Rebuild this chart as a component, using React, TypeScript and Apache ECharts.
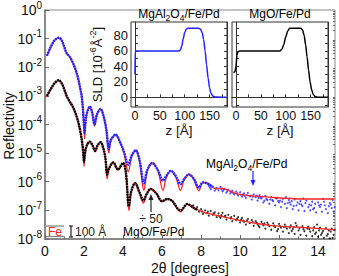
import { useEffect, useRef } from "react";
import * as echarts from "echarts";

const FONT = '"Liberation Sans", Arial, Helvetica, sans-serif';
const BLUE = "#2222ff";
const RED = "#ff2020";
const DARK = "#111111";
const GREY = "#555555";

// Reflectivity vs 2theta (degrees)
const blueFit: number[][] = [
  [0.1, 2.5e-2], [0.3, 5.2e-2], [0.5, 8.9e-2], [0.7, 1.07e-1], [0.85, 8.9e-2], [1.0, 4.8e-2],
  [1.12, 3.0e-2], [1.25, 2.4e-2], [1.4, 1.6e-2], [1.55, 8.9e-3], [1.7, 4.0e-3], [1.8, 1.9e-3],
  [1.88, 1.0e-3], [1.95, 3.2e-4], [2.0, 7.9e-5], [2.03, 3.2e-5], [2.07, 1.0e-4], [2.15, 2.5e-4],
  [2.3, 4.2e-4], [2.42, 2.5e-4], [2.54, 8.9e-5], [2.66, 2.2e-4], [2.85, 3.5e-4], [3.0, 2.0e-4],
  [3.15, 6.3e-5], [3.27, 1.0e-5], [3.38, 2.8e-5], [3.62, 4.4e-5], [3.85, 2.4e-5], [4.05, 1.0e-5],
  [4.27, 2.2e-6], [4.45, 7.9e-6], [4.65, 1.26e-5], [4.85, 5.0e-6], [5.07, 5.0e-7], [5.25, 2.5e-6],
  [5.5, 4.5e-6], [5.78, 2.5e-6], [6.05, 5.0e-7], [6.22, 1.4e-6], [6.45, 2.4e-6], [6.7, 1.5e-6],
  [6.95, 5.0e-7], [7.12, 1.1e-6], [7.37, 1.8e-6], [7.62, 1.26e-6], [7.89, 4.8e-7], [8.1, 9.5e-7],
  [8.35, 8.9e-7], [8.8, 5.6e-7], [9.0, 6.0e-7], [9.9, 3.7e-7], [11.5, 2.9e-7], [13.3, 2.5e-7],
  [14.85, 2.5e-7],
];

const blueData: number[][] = [
  [0.1, 2.5e-2], [0.3, 5.2e-2], [0.5, 8.9e-2], [0.7, 1.07e-1], [0.85, 8.9e-2], [1.0, 4.8e-2],
  [1.12, 3.0e-2], [1.25, 2.4e-2], [1.4, 1.6e-2], [1.55, 8.9e-3], [1.7, 4.0e-3], [1.8, 1.9e-3],
  [1.88, 1.0e-3], [1.95, 3.2e-4], [2.0, 8.9e-5], [2.03, 5.0e-5], [2.07, 1.1e-4], [2.15, 2.5e-4],
  [2.3, 4.2e-4], [2.42, 2.6e-4], [2.54, 1.0e-4], [2.66, 2.2e-4], [2.85, 3.5e-4], [3.0, 2.0e-4],
  [3.15, 6.3e-5], [3.27, 1.4e-5], [3.38, 2.9e-5], [3.62, 4.4e-5], [3.85, 2.4e-5], [4.05, 1.1e-5],
  [4.27, 4.0e-6], [4.45, 8.3e-6], [4.65, 1.26e-5], [4.85, 5.6e-6], [5.07, 8.9e-7], [5.25, 2.6e-6],
  [5.5, 4.5e-6], [5.78, 2.6e-6], [6.05, 1.1e-6], [6.22, 1.6e-6], [6.45, 2.4e-6], [6.7, 1.6e-6],
  [6.95, 8.3e-7], [7.12, 1.2e-6], [7.37, 1.8e-6], [7.62, 1.3e-6], [7.89, 6.3e-7], [8.1, 9.5e-7],
  [8.35, 8.5e-7], [8.6, 6.5e-7],
];

const blueScatter: number[][] = [
  [8.4, 7.2e-7], [8.5, 5.5e-7], [8.6, 6.8e-7], [8.7, 4.9e-7], [8.8, 6.1e-7], [8.9, 5.0e-7],
  [9.0, 6.6e-7], [9.05, 5.4e-7], [9.1, 4.6e-7], [9.2, 5.6e-7], [9.3, 4.2e-7], [9.4, 5.2e-7],
  [9.5, 3.9e-7], [9.55, 4.4e-7], [9.6, 4.8e-7], [9.7, 3.6e-7], [9.8, 4.5e-7], [9.9, 3.3e-7],
  [10.0, 4.3e-7], [10.05, 3.5e-7], [10.1, 3.0e-7], [10.2, 3.9e-7], [10.3, 2.7e-7], [10.4, 4.1e-7],
  [10.5, 3.1e-7], [10.55, 3.3e-7], [10.6, 2.4e-7], [10.7, 3.6e-7], [10.8, 2.9e-7], [10.85, 3.3e-7],
  [10.9, 2.2e-7], [11.0, 3.4e-7], [11.05, 2.8e-7], [11.1, 2.6e-7], [11.2, 1.9e-7], [11.3, 3.2e-7],
  [11.4, 2.3e-7], [11.5, 1.7e-7], [11.55, 2.4e-7], [11.6, 2.9e-7], [11.7, 2.1e-7], [11.8, 1.5e-7],
  [11.85, 2.6e-7], [11.9, 2.7e-7], [12.0, 1.9e-7], [12.05, 2.2e-7], [12.1, 1.3e-7], [12.2, 2.5e-7],
  [12.3, 1.7e-7], [12.35, 2.9e-7], [12.4, 1.2e-7], [12.5, 2.3e-7], [12.55, 1.9e-7], [12.6, 1.6e-7],
  [12.7, 1.1e-7], [12.8, 2.4e-7], [12.9, 1.5e-7], [13.0, 1.0e-7], [13.05, 1.7e-7], [13.1, 2.1e-7],
  [13.2, 1.4e-7], [13.25, 2.6e-7], [13.3, 9.5e-8], [13.4, 2.2e-7], [13.5, 1.3e-7], [13.55, 1.6e-7],
  [13.6, 1.0e-7], [13.7, 2.0e-7], [13.8, 1.2e-7], [13.9, 8.5e-8], [14.0, 1.9e-7], [14.05, 1.5e-7],
  [14.1, 1.3e-7], [14.2, 9.0e-8], [14.25, 2.5e-7], [14.3, 2.0e-7], [14.4, 1.1e-7], [14.5, 8.0e-8],
  [14.55, 1.4e-7], [14.6, 1.8e-7], [14.7, 1.2e-7], [14.75, 2.3e-7], [14.8, 9.0e-8],
  [8.45, 6.2e-7], [8.75, 5.7e-7], [9.15, 5.1e-7], [9.35, 4.7e-7], [9.65, 4.1e-7], [9.85, 3.9e-7],
  [10.15, 3.6e-7], [10.35, 3.4e-7], [10.65, 3.0e-7], [10.95, 2.7e-7], [11.15, 3.0e-7], [11.35, 2.5e-7],
  [11.65, 2.3e-7], [11.95, 2.1e-7], [12.15, 2.0e-7], [12.45, 1.8e-7], [12.65, 2.1e-7], [12.95, 1.9e-7],
  [13.15, 1.6e-7], [13.35, 1.8e-7], [13.65, 1.5e-7], [13.85, 1.7e-7], [14.15, 1.6e-7], [14.35, 1.5e-7],
  [14.65, 1.6e-7], [14.85, 1.3e-7], [12.75, 1.4e-7], [13.75, 1.1e-7], [11.25, 2.2e-7], [10.25, 3.2e-7],
];

const blackFit: number[][] = [
  [0.0, 9.3e-4], [0.1, 1.0e-3], [0.28, 1.66e-3], [0.5, 2.8e-3], [0.7, 3.5e-3], [0.85, 2.8e-3],
  [1.0, 1.6e-3], [1.12, 9.5e-4], [1.25, 6.6e-4], [1.4, 4.5e-4], [1.5, 3.2e-4], [1.65, 1.66e-4],
  [1.8, 6.3e-5], [1.9, 2.5e-5], [1.96, 1.0e-5], [2.0, 3.5e-6], [2.05, 1.0e-5], [2.15, 1.9e-5],
  [2.29, 2.5e-5], [2.43, 1.9e-5], [2.57, 1.1e-5], [2.7, 1.9e-5], [2.85, 2.4e-5], [3.0, 1.4e-5],
  [3.1, 6.3e-6], [3.19, 1.26e-6], [3.28, 2.8e-6], [3.5, 4.7e-6], [3.74, 2.6e-6], [4.0, 4.5e-6],
  [4.15, 2.0e-6], [4.3, 1.0e-7], [4.42, 4.5e-7], [4.62, 8.9e-7], [4.85, 4.0e-7], [5.05, 1.8e-7],
  [5.2, 3.5e-7], [5.42, 5.6e-7], [5.7, 4.0e-7], [6.0, 2.0e-7], [6.27, 2.5e-7], [6.5, 2.2e-7],
  [6.95, 8.9e-8], [7.3, 1.66e-7], [7.6, 1.26e-7], [8.1, 8.7e-8], [9.0, 6.3e-8], [9.9, 4.6e-8],
  [11.5, 3.0e-8], [13.3, 2.5e-8], [14.85, 2.1e-8],
];

const blackData: number[][] = [
  [0.1, 1.0e-3], [0.28, 1.66e-3], [0.5, 2.8e-3], [0.7, 3.5e-3], [0.85, 2.8e-3],
  [1.0, 1.6e-3], [1.12, 9.5e-4], [1.25, 6.6e-4], [1.4, 4.5e-4], [1.5, 3.2e-4], [1.65, 1.66e-4],
  [1.8, 6.3e-5], [1.9, 2.5e-5], [1.96, 1.1e-5], [2.0, 5.0e-6], [2.05, 1.0e-5], [2.15, 1.9e-5],
  [2.29, 2.5e-5], [2.43, 1.9e-5], [2.57, 1.2e-5], [2.7, 1.9e-5], [2.85, 2.4e-5], [3.0, 1.4e-5],
  [3.1, 6.3e-6], [3.19, 1.8e-6], [3.28, 2.9e-6], [3.5, 4.7e-6], [3.74, 2.7e-6], [4.0, 4.5e-6],
  [4.15, 2.0e-6], [4.3, 1.4e-7], [4.42, 4.5e-7], [4.62, 8.9e-7], [4.85, 4.2e-7], [5.05, 2.2e-7],
  [5.2, 3.6e-7], [5.42, 5.6e-7], [5.7, 4.0e-7], [6.0, 2.1e-7], [6.27, 2.5e-7], [6.5, 2.2e-7],
  [6.95, 1.0e-7], [7.3, 1.66e-7], [7.6, 1.26e-7], [7.8, 1.05e-7],
];

const blackScatter: number[][] = [
  [7.6, 1.5e-7], [7.7, 1.1e-7], [7.8, 1.3e-7], [7.9, 9.0e-8], [8.0, 1.1e-7], [8.1, 7.5e-8],
  [8.2, 1.0e-7], [8.3, 8.0e-8], [8.4, 6.5e-8], [8.5, 9.5e-8], [8.6, 7.0e-8], [8.7, 8.5e-8],
  [8.8, 5.8e-8], [8.9, 7.8e-8], [9.0, 5.5e-8], [9.05, 6.8e-8], [9.1, 8.2e-8], [9.2, 6.0e-8],
  [9.3, 4.8e-8], [9.4, 7.0e-8], [9.5, 5.2e-8], [9.6, 4.2e-8], [9.7, 6.4e-8], [9.8, 4.6e-8],
  [9.9, 5.8e-8], [10.0, 3.8e-8], [10.1, 5.5e-8], [10.15, 4.4e-8], [10.2, 4.0e-8], [10.3, 3.2e-8],
  [10.4, 5.0e-8], [10.5, 3.6e-8], [10.6, 4.6e-8], [10.7, 2.9e-8], [10.8, 4.2e-8], [10.9, 3.3e-8],
  [10.95, 2.9e-8], [11.0, 2.6e-8], [11.1, 4.0e-8], [11.2, 3.0e-8], [11.25, 3.5e-8], [11.3, 2.3e-8],
  [11.4, 3.7e-8], [11.5, 2.8e-8], [11.6, 2.1e-8], [11.7, 3.5e-8], [11.8, 2.6e-8], [11.9, 1.9e-8],
  [11.95, 2.2e-8], [12.0, 3.4e-8], [12.1, 2.5e-8], [12.2, 1.8e-8], [12.3, 3.2e-8], [12.35, 2.7e-8],
  [12.4, 2.3e-8], [12.5, 1.6e-8], [12.6, 3.0e-8], [12.7, 2.2e-8], [12.8, 1.5e-8], [12.85, 3.6e-8],
  [12.9, 2.9e-8], [13.0, 2.0e-8], [13.1, 1.4e-8], [13.2, 2.8e-8], [13.3, 1.9e-8], [13.4, 1.3e-8],
  [13.45, 2.3e-8], [13.5, 2.7e-8], [13.6, 1.8e-8], [13.7, 1.25e-8], [13.8, 2.6e-8], [13.9, 1.7e-8],
  [13.95, 3.2e-8], [14.0, 1.2e-8], [14.1, 2.5e-8], [14.2, 1.6e-8], [14.3, 1.1e-8], [14.4, 2.4e-8],
  [14.45, 1.3e-8], [14.5, 1.5e-8], [14.55, 2.0e-8], [14.6, 1.05e-8], [14.7, 2.3e-8], [14.8, 1.4e-8],
  [8.05, 9.2e-8], [8.35, 9.0e-8], [8.65, 7.8e-8], [8.95, 6.2e-8], [9.25, 6.6e-8], [9.55, 5.8e-8],
  [9.85, 5.1e-8], [10.05, 4.8e-8], [10.35, 4.4e-8], [10.65, 3.9e-8], [10.85, 3.7e-8], [11.15, 3.3e-8],
  [11.45, 3.2e-8], [11.75, 2.9e-8], [12.05, 2.8e-8], [12.25, 2.6e-8], [12.55, 2.5e-8], [12.75, 2.6e-8],
  [13.05, 2.4e-8], [13.25, 2.2e-8], [13.55, 2.2e-8], [13.75, 2.0e-8], [14.05, 2.0e-8], [14.25, 1.9e-8],
  [14.65, 1.8e-8], [14.85, 2.1e-8], [13.85, 1.5e-8], [14.15, 1.4e-8], [12.65, 1.9e-8], [14.75, 1.1e-8],
];

// SLD profiles, z [Å] vs SLD [1e-6 Å^-2]
const sldMgAl2O4: number[][] = [
  [0, 30], [0.5, 60], [88, 60], [91, 61], [94, 66], [97, 76], [100, 84], [103, 88], [106, 89.5],
  [128, 89.5], [132, 88], [135, 84], [138, 75], [141, 60], [144, 42], [147, 25], [150, 12],
  [153, 5], [157, 1.5], [162, 0.3], [183, 0],
];
const sldMgO: number[][] = [
  [-5, 32], [-2, 33], [0, 40], [2, 55], [4, 59], [7, 60], [88, 60], [92, 62], [96, 68], [100, 78],
  [104, 86], [108, 89.5], [130, 89.5], [134, 87], [137, 80], [140, 68], [143, 52], [146, 35],
  [149, 20], [152, 10], [155, 4], [159, 1], [165, 0.2], [185, 0],
];

const xTicks = [0, 2, 4, 6, 8, 10, 12, 14];
const decades = [1e-8, 1e-7, 1e-6, 1e-5, 1e-4, 1e-3, 1e-2, 1e-1, 1];
const minorDecadeTicks: number[] = [];
for (let e = -8; e < 0; e++) {
  for (let k = 2; k <= 9; k++) minorDecadeTicks.push(k * Math.pow(10, e));
}
const zTicks = [0, 25, 50, 75, 100, 125, 150, 175];
const zLabels = [0, 50, 100, 150];
const sldTicks = [-10, 0, 10, 20, 30, 40, 50, 60, 70, 80, 90];
const sldLabels = [0, 20, 40, 60, 80];

export default function App() {
  const ref = useRef<HTMLDivElement>(null);
  useEffect(() => {
    if (!ref.current) return;
    const chart = echarts.init(ref.current, null, { renderer: "svg" });

    const insetX = (gridIndex: number) => ({
      gridIndex,
      type: "value",
      min: -8,
      max: 185,
      axisLine: { show: true, lineStyle: { color: "#333", width: 1 } },
      axisTick: { show: true, inside: true, length: 3, customValues: zTicks, lineStyle: { color: "#333" } },
      axisLabel: { show: true, customValues: zLabels, fontSize: 12.5, color: DARK, fontFamily: FONT, margin: 2 },
      splitLine: { show: false },
    });
    const insetY = (gridIndex: number, position: string, labels: boolean) => ({
      gridIndex,
      type: "value",
      position,
      min: -12.5,
      max: 97.5,
      axisLine: { show: true, lineStyle: { color: "#333", width: 1 } },
      axisTick: { show: true, inside: true, length: 3, customValues: sldTicks, lineStyle: { color: "#333" } },
      axisLabel: labels
        ? { show: true, customValues: sldLabels, fontSize: 13, color: DARK, fontFamily: FONT, margin: 3 }
        : { show: false },
      splitLine: { show: false },
    });

    const option: any = {
      animation: false,
      backgroundColor: "#ffffff",
      grid: [
        { left: 45, top: 7, width: 290, height: 232, show: true, borderColor: "#888", borderWidth: 1, backgroundColor: "transparent" },
        { left: 131, top: 22, width: 96, height: 85, show: true, borderColor: "#333", borderWidth: 1, backgroundColor: "#fff" },
        { left: 232, top: 22, width: 96, height: 85, show: true, borderColor: "#333", borderWidth: 1, backgroundColor: "#fff" },
      ],
      xAxis: [
        {
          gridIndex: 0,
          type: "value",
          min: 0,
          max: 14.87,
          interval: 2,
          axisLine: { show: true, lineStyle: { color: "#777", width: 1.5 } },
          axisTick: { show: true, inside: true, length: 4, customValues: xTicks, lineStyle: { color: "#666" } },
          minorTick: { show: true, splitNumber: 2, length: 2.5, lineStyle: { color: "#666" } },
          axisLabel: {
            fontSize: 14, color: DARK, fontFamily: FONT, margin: 5,
            customValues: xTicks,
            formatter: (v: number) => String(Math.round(v)),
          },
          splitLine: { show: false },
        },
        insetX(1),
        insetX(2),
      ],
      yAxis: [
        {
          gridIndex: 0,
          type: "log",
          logBase: 10,
          min: 1e-8,
          max: 1,
          splitNumber: 8,
          axisLine: { show: true, lineStyle: { color: "#777", width: 1.5 } },
          axisTick: { show: true, inside: true, length: 4, customValues: decades, lineStyle: { color: "#666" } },
          axisLabel: {
            customValues: decades,
            margin: 3,
            formatter: (v: number) => `{b|10}{s|${Math.round(Math.log10(v))}}`,
            rich: {
              b: { fontSize: 14, fontFamily: FONT, color: DARK, lineHeight: 20 },
              s: { fontSize: 10, fontFamily: FONT, color: DARK, lineHeight: 10, verticalAlign: "top" },
            },
          },
          splitLine: { show: false },
        },
        {
          gridIndex: 0,
          type: "log",
          logBase: 10,
          min: 1e-8,
          max: 1,
          axisLine: { show: false },
          axisTick: { show: true, inside: true, length: 2, customValues: minorDecadeTicks, lineStyle: { color: "#666" } },
          axisLabel: { show: false },
          splitLine: { show: false },
        },
        {
          ...insetY(1, "left", true),
          name: "{n|SLD [10}{p|-6}{n|Å}{p|-2}{n|]}",
          nameLocation: "middle",
          nameRotate: 90,
          nameGap: 25,
          nameTextStyle: {
            rich: {
              n: { fontSize: 13, fontFamily: FONT, color: DARK, lineHeight: 18 },
              p: { fontSize: 9, fontFamily: FONT, color: DARK, lineHeight: 9, verticalAlign: "top" },
            },
          },
        },
        insetY(1, "right", false),
        insetY(2, "left", false),
        insetY(2, "right", false),
      ],
      series: [
        { type: "scatter", name: "MgAl2O4 data HA", xAxisIndex: 0, yAxisIndex: 0, data: blueScatter, symbolSize: 2, itemStyle: { color: BLUE }, z: 1 },
        { type: "scatter", name: "MgO data HA", xAxisIndex: 0, yAxisIndex: 0, data: blackScatter, symbolSize: 2, itemStyle: { color: "#000" }, z: 1 },
        { type: "line", name: "MgAl2O4 fit", xAxisIndex: 0, yAxisIndex: 0, data: blueFit, smooth: 0.35, showSymbol: false, symbol: "none", lineStyle: { color: RED, width: 1.3 }, z: 2 },
        { type: "line", name: "MgO fit", xAxisIndex: 0, yAxisIndex: 0, data: blackFit, smooth: 0.35, showSymbol: false, symbol: "none", lineStyle: { color: RED, width: 1.3 }, z: 2 },
        { type: "line", name: "MgAl2O4 data", xAxisIndex: 0, yAxisIndex: 0, data: blueData, smooth: 0.35, showSymbol: false, symbol: "none", lineStyle: { color: BLUE, width: 2.4, type: [2, 0.6] }, z: 3 },
        { type: "line", name: "MgO data", xAxisIndex: 0, yAxisIndex: 0, data: blackData, smooth: 0.35, showSymbol: false, symbol: "none", lineStyle: { color: "#000", width: 2.4, type: [2, 0.6] }, z: 3 },
        { type: "line", name: "SLD MgAl2O4", xAxisIndex: 1, yAxisIndex: 2, data: sldMgAl2O4, smooth: 0.3, smoothMonotone: "x", showSymbol: false, symbol: "none", lineStyle: { color: BLUE, width: 1.5 } },
        { type: "line", name: "SLD MgO", xAxisIndex: 2, yAxisIndex: 4, data: sldMgO, smooth: 0.3, smoothMonotone: "x", showSymbol: false, symbol: "none", lineStyle: { color: "#000", width: 1.5 } },
      ],
      graphic: [
        { type: "text", x: 9, y: 126, rotation: Math.PI / 2, style: { text: "Reflectivity", font: `14px ${FONT}`, fill: DARK, align: "center", verticalAlign: "middle", textAlign: "center", textVerticalAlign: "middle" } },
        { type: "text", x: 190, y: 268, style: { text: "2θ [degrees]", font: `14px ${FONT}`, fill: DARK, align: "center", verticalAlign: "middle", textAlign: "center", textVerticalAlign: "middle" } },
        { type: "text", x: 179, y: 130, style: { text: "z [Å]", font: `13.5px ${FONT}`, fill: DARK, align: "center", verticalAlign: "middle", textAlign: "center", textVerticalAlign: "middle" } },
        { type: "text", x: 280, y: 130, style: { text: "z [Å]", font: `13.5px ${FONT}`, fill: DARK, align: "center", verticalAlign: "middle", textAlign: "center", textVerticalAlign: "middle" } },
        {
          type: "text", x: 179, y: 14,
          style: {
            text: "{b|MgAl}{bs|2}{b|O}{bs|4}{g|/}{r|Fe}{g|/Pd}",
            align: "center", verticalAlign: "middle", textAlign: "center", textVerticalAlign: "middle",
            rich: {
              b: { fontSize: 12, fontFamily: FONT, color: BLUE, lineHeight: 16 },
              bs: { fontSize: 8.5, fontFamily: FONT, color: BLUE, lineHeight: 10, verticalAlign: "bottom" },
              r: { fontSize: 12, fontFamily: FONT, color: RED, lineHeight: 16 },
              g: { fontSize: 12, fontFamily: FONT, color: GREY, lineHeight: 16 },
            },
          },
        },
        {
          type: "text", x: 280, y: 14,
          style: {
            text: "{k|MgO/}{r|Fe}{g|/Pd}",
            align: "center", verticalAlign: "middle", textAlign: "center", textVerticalAlign: "middle",
            rich: {
              k: { fontSize: 12, fontFamily: FONT, color: "#222", lineHeight: 16 },
              r: { fontSize: 12, fontFamily: FONT, color: RED, lineHeight: 16 },
              g: { fontSize: 12, fontFamily: FONT, color: GREY, lineHeight: 16 },
            },
          },
        },
        {
          type: "text", x: 206, y: 164,
          style: {
            text: "{b|MgAl}{bs|2}{b|O}{bs|4}{g|/}{r|Fe}{g|/Pd}",
            align: "left", verticalAlign: "middle", textAlign: "left", textVerticalAlign: "middle",
            rich: {
              b: { fontSize: 12, fontFamily: FONT, color: BLUE, lineHeight: 16 },
              bs: { fontSize: 8.5, fontFamily: FONT, color: BLUE, lineHeight: 10, verticalAlign: "bottom" },
              r: { fontSize: 12, fontFamily: FONT, color: RED, lineHeight: 16 },
              g: { fontSize: 12, fontFamily: FONT, color: GREY, lineHeight: 16 },
            },
          },
        },
        { type: "line", shape: { x1: 253, y1: 171, x2: 253, y2: 182 }, style: { stroke: BLUE, lineWidth: 1.2 } },
        { type: "polygon", shape: { points: [[253, 186], [250.5, 180], [255.5, 180]] }, style: { fill: BLUE } },
        { type: "text", x: 151, y: 219, style: { text: "÷ 50", font: `12px ${FONT}`, fill: "#222", align: "center", verticalAlign: "middle", textAlign: "center", textVerticalAlign: "middle" } },
        { type: "line", shape: { x1: 151, y1: 212, x2: 151, y2: 199 }, style: { stroke: "#222", lineWidth: 1.2 } },
        { type: "polygon", shape: { points: [[151, 194], [148.5, 200], [153.5, 200]] }, style: { fill: "#222" } },
        {
          type: "text", x: 123, y: 232,
          style: {
            text: "{k|MgO/}{r|Fe}{g|/Pd}",
            align: "left", verticalAlign: "middle", textAlign: "left", textVerticalAlign: "middle",
            rich: {
              k: { fontSize: 12, fontFamily: FONT, color: "#222", lineHeight: 16 },
              r: { fontSize: 12, fontFamily: FONT, color: RED, lineHeight: 16 },
              g: { fontSize: 12, fontFamily: FONT, color: GREY, lineHeight: 16 },
            },
          },
        },
        { type: "line", shape: { x1: 46, y1: 226, x2: 64, y2: 226 }, style: { stroke: "#888", lineWidth: 1.3 } },
        { type: "line", shape: { x1: 46, y1: 236.5, x2: 64, y2: 236.5 }, style: { stroke: "#888", lineWidth: 1.3 } },
        { type: "text", x: 55, y: 231.5, style: { text: "Fe", font: `12px ${FONT}`, fill: RED, align: "center", verticalAlign: "middle", textAlign: "center", textVerticalAlign: "middle" } },
        { type: "line", shape: { x1: 71, y1: 226, x2: 71, y2: 237 }, style: { stroke: "#222", lineWidth: 1.2 } },
        { type: "line", shape: { x1: 69, y1: 226, x2: 73, y2: 226 }, style: { stroke: "#222", lineWidth: 1.2 } },
        { type: "line", shape: { x1: 69, y1: 237, x2: 73, y2: 237 }, style: { stroke: "#222", lineWidth: 1.2 } },
        { type: "text", x: 75, y: 232, style: { text: "100 Å", font: `12px ${FONT}`, fill: "#222", align: "left", verticalAlign: "middle", textAlign: "left", textVerticalAlign: "middle" } },
      ],
    };
    chart.setOption(option);
    return () => chart.dispose();
  }, []);
  return <div ref={ref} style={{ position: "fixed", left: 0, top: 0, width: 339, height: 276, background: "#fff" }} />;
}
